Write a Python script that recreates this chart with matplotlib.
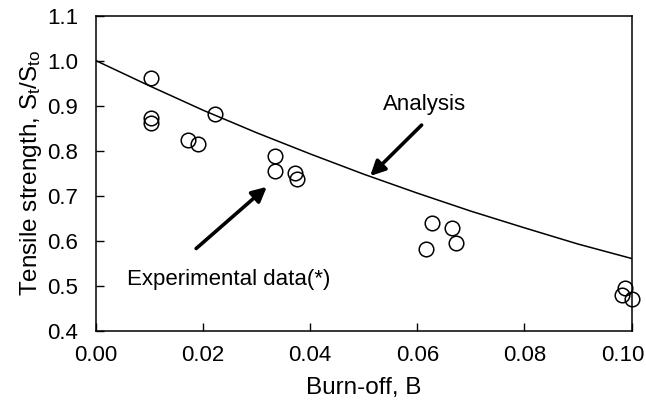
import matplotlib
matplotlib.use('Agg')
import matplotlib.pyplot as plt
import matplotlib.transforms as mtrans

plt.rcParams['font.family'] = ['Liberation Sans', 'DejaVu Sans']
plt.rcParams['mathtext.fontset'] = 'custom'
plt.rcParams['mathtext.rm'] = 'Liberation Sans'
plt.rcParams['mathtext.it'] = 'Liberation Sans'

# experimental data (burn-off, normalised strength)
exp_b = [0.0103, 0.0103, 0.0103, 0.0171, 0.0191, 0.0223, 0.0334, 0.0334, 0.0372, 0.0375,
         0.0627, 0.0616, 0.0664, 0.0672, 0.0988, 0.0982, 0.1000]
exp_s = [0.962, 0.872, 0.862, 0.823, 0.816, 0.881, 0.789, 0.755, 0.751, 0.737,
         0.639, 0.582, 0.628, 0.595, 0.496, 0.480, 0.471]

# analysis curve
ana_b = [0.00, 0.01, 0.02, 0.03, 0.04, 0.05, 0.06, 0.07, 0.08, 0.09, 0.10]
ana_s = [1.000, 0.944, 0.890, 0.840, 0.793, 0.748, 0.706, 0.666, 0.629, 0.593, 0.561]

fig = plt.figure(figsize=(6.46, 4.0), dpi=100)
ax = fig.add_axes([0.1486, 0.1725, 0.829, 0.7885])

ax.plot(ana_b, ana_s, color='black', lw=1.1)
ax.plot(exp_b, exp_s, 'o', mfc='none', mec='black', ms=10.5, mew=1.1, clip_on=False, zorder=5)

ax.set_xlim(0, 0.10)
ax.set_ylim(0.4, 1.1)
ax.set_xticks([0.00, 0.02, 0.04, 0.06, 0.08, 0.10])
ax.set_xticklabels(['0.00', '0.02', '0.04', '0.06', '0.08', '0.10'])
ax.set_yticks([0.4, 0.5, 0.6, 0.7, 0.8, 0.9, 1.0, 1.1])
ax.set_yticklabels(['0.4', '0.5', '0.6', '0.7', '0.8', '0.9', '1.0', '1.1'])
ax.tick_params(direction='in', length=6, width=1, labelsize=16)
ax.tick_params(axis='x', pad=10)
ax.tick_params(axis='y', pad=13)
for sp in ax.spines.values():
    sp.set_linewidth(1.1)

# last x label sits a little left so it stays inside the picture
lbl = ax.get_xticklabels()[-1]
lbl.set_transform(lbl.get_transform() + mtrans.ScaledTranslation(-6 / 72, 0, fig.dpi_scale_trans))

ax.set_xlabel('Burn-off, B', fontsize=17.5)
ax.set_ylabel(r'Tensile strength, S$_\mathrm{t}$/S$_\mathrm{to}$', fontsize=17.5)
ax.xaxis.set_label_coords(0.5, -0.146)
ax.yaxis.set_label_coords(-0.097, 0.5)

arrow = dict(arrowstyle='-|>', lw=2.6, color='black', mutation_scale=22, shrinkA=0, shrinkB=0)
ax.annotate('', xy=(0.0512, 0.744), xytext=(0.0608, 0.857), arrowprops=arrow)
ax.text(0.0613, 0.890, 'Analysis', fontsize=16, ha='center', va='baseline')
ax.annotate('', xy=(0.0319, 0.720), xytext=(0.0187, 0.583), arrowprops=arrow)
ax.text(0.0057, 0.502, 'Experimental data(*)', fontsize=16, ha='left', va='baseline')

fig.savefig('out.png', dpi=100)
